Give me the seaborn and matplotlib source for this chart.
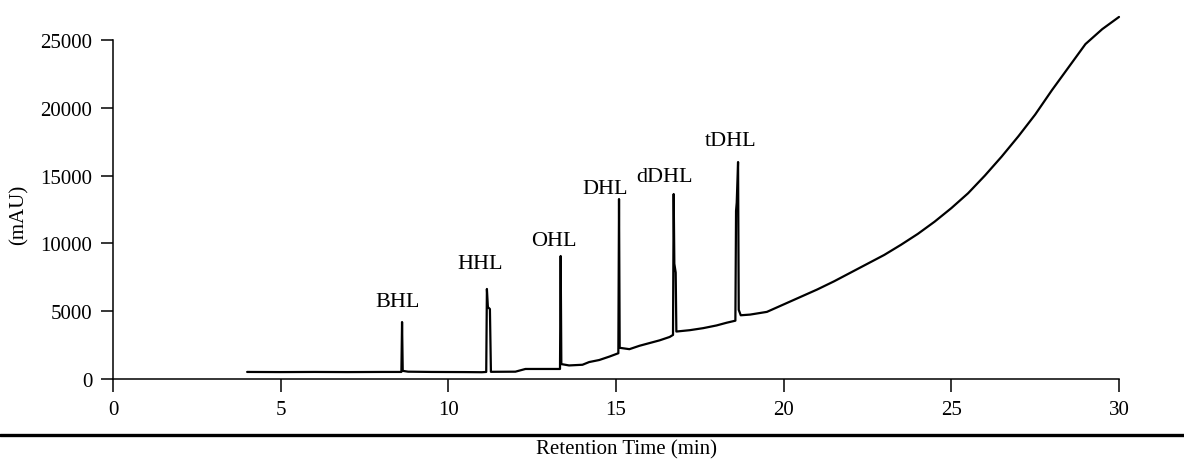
import seaborn as sns
import matplotlib.pyplot as plt
import pandas as pd
from matplotlib.lines import Line2D


# chromatogram trace (time in min, signal in mAU)
time = [4.0, 5.0, 6.0, 7.0, 8.0, 8.60, 8.62, 8.64, 8.8, 9.5, 10.5, 11.0,
        11.13, 11.15, 11.18, 11.24, 11.27, 12.0, 12.3, 13.33, 13.35, 13.37,
        13.6, 14.0, 14.2, 14.5, 14.8, 15.07, 15.09, 15.11, 15.4, 15.7, 16.0,
        16.3, 16.6, 16.70, 16.72, 16.74, 16.78, 16.80, 17.2, 17.6, 18.0,
        18.3, 18.56, 18.58, 18.60, 18.64, 18.66, 18.72, 19.0, 19.5, 20.0,
        20.5, 21.0, 21.5, 22.0, 22.5, 23.0, 23.5, 24.0, 24.5, 25.0, 25.5,
        26.0, 26.5, 27.0, 27.5, 28.0, 28.5, 29.0, 29.5, 30.0]
signal = [520, 510, 520, 510, 520, 520, 4200, 600, 540, 520, 510, 500,
          520, 6640, 5300, 5160, 530, 540, 740, 740, 9070, 1100,
          1000, 1050, 1250, 1400, 1650, 1900, 13270, 2300, 2200, 2450, 2650,
          2850, 3100, 3250, 13640, 8500, 7850, 3500, 3600, 3750, 3950,
          4150, 4300, 12400, 13000, 16000, 5100, 4700, 4750, 4950, 5500,
          6050, 6600, 7200, 7850, 8500, 9150, 9900, 10700, 11600, 12600, 13700,
          15000, 16400, 17900, 19500, 21300, 23000, 24700, 25800, 26700]

# peak labels
peak_names = ["BHL", "HHL", "OHL", "DHL", "dDHL", "tDHL"]
peak_x = [8.50, 10.94, 13.15, 14.67, 16.46, 18.43]
peak_y = [5680, 8550, 10250, 14080, 14970, 17620]

df = pd.DataFrame({"time": time, "signal": signal})

sns.set_theme(style="ticks")
plt.rcParams['font.family'] = ['Liberation Serif', 'DejaVu Serif']

fig = plt.figure(figsize=(11.84, 4.6), dpi=100)
ax = fig.add_axes([113 / 1184, 1 - 380 / 460, 1006 / 1184, 339 / 460])

sns.lineplot(data=df, x="time", y="signal", ax=ax, color="black",
             linewidth=1.6, sort=False, estimator=None, clip_on=False)

for name, px, py in zip(peak_names, peak_x, peak_y):
    ax.text(px, py, name, ha="center", va="center", fontsize=16, color="black")

ax.set_xlim(0, 30)
ax.set_ylim(0, 25000)
ax.set_xticks([0, 5, 10, 15, 20, 25, 30])
ax.set_yticks([0, 5000, 10000, 15000, 20000, 25000])
ax.tick_params(axis="both", direction="out", length=9, width=1.1,
               labelsize=15, colors="black", pad=6)
sns.despine(ax=ax)
for s in ["left", "bottom"]:
    ax.spines[s].set_linewidth(1.1)
    ax.spines[s].set_color("black")

ax.set_ylabel("(mAU)", fontsize=15, color="black")
ax.yaxis.set_label_coords((29 - 113) / 1006, 0.487)
ax.set_xlabel("")

# thick rule and axis title under the plot
fig.add_artist(Line2D([0, 1], [1 - 436 / 460] * 2, transform=fig.transFigure,
                      color="black", linewidth=2.4))
fig.text(627 / 1184, 1 - 450 / 460, "Retention Time (min)", ha="center",
         va="center", fontsize=15, color="black")

plt.savefig("out.png", dpi=100)
